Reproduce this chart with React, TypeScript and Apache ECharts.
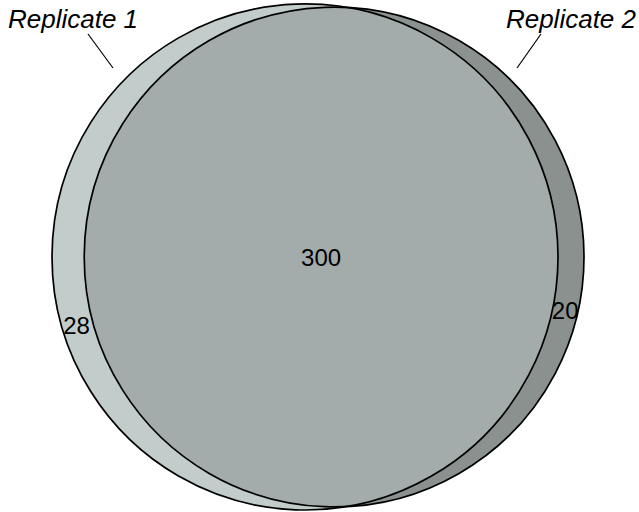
import React, { useEffect, useRef } from "react";
import * as echarts from "echarts";

// ---- data ----
const setNames = ["Replicate 1", "Replicate 2"];
const onlyCounts = [28, 20];
const sharedCount = 300;

const FILL_A = "#c2cccb";
const FILL_B = "#8a918e";
const FILL_AB = "#a3abab";
const FONT = "'Liberation Sans', Arial, Helvetica, sans-serif";

function lensArea(r1: number, r2: number, d: number): number {
  if (d >= r1 + r2) return 0;
  if (d <= Math.abs(r1 - r2)) return Math.PI * Math.min(r1, r2) ** 2;
  const a1 = Math.acos((d * d + r1 * r1 - r2 * r2) / (2 * d * r1));
  const a2 = Math.acos((d * d + r2 * r2 - r1 * r1) / (2 * d * r2));
  const k = Math.sqrt((-d + r1 + r2) * (d + r1 - r2) * (d - r1 + r2) * (d + r1 + r2));
  return r1 * r1 * a1 + r2 * r2 * a2 - 0.5 * k;
}

function solveDistance(r1: number, r2: number, target: number): number {
  let lo = Math.abs(r1 - r2) + 1e-6;
  let hi = r1 + r2;
  for (let i = 0; i < 80; i++) {
    const mid = (lo + hi) / 2;
    if (lensArea(r1, r2, mid) > target) lo = mid;
    else hi = mid;
  }
  return (lo + hi) / 2;
}

function renderVenn(params: any, api: any) {
  const W = api.getWidth();
  const H = api.getHeight();
  const sizeA = onlyCounts[0] + sharedCount;
  const sizeB = onlyCounts[1] + sharedCount;
  const r1 = (H - 6) / 2;
  const unit = (Math.PI * r1 * r1) / sizeA;
  const r2 = Math.sqrt((sizeB * unit) / Math.PI);
  const d = solveDistance(r1, r2, sharedCount * unit);
  const total = r1 + d + r2;
  const left = W / 2 - total / 2 - 1.5;
  const cx1 = left + r1;
  const cx2 = cx1 + d;
  const cy = H / 2 + 1;

  const a = (d * d + r1 * r1 - r2 * r2) / (2 * d);
  const h = Math.sqrt(r1 * r1 - a * a);
  const chordX = cx1 + a;
  const topY = cy - h;
  const botY = cy + h;
  const large2 = chordX > cx2 ? 1 : 0;
  const large1 = chordX < cx1 ? 1 : 0;
  const lens = `M ${chordX} ${topY} A ${r2} ${r2} 0 ${large2} 0 ${chordX} ${botY} A ${r1} ${r1} 0 ${large1} 0 ${chordX} ${topY} Z`;

  const yA = cy + 0.27 * r1;
  const xA = ((cx1 - Math.sqrt(r1 * r1 - (yA - cy) ** 2)) + (cx2 - Math.sqrt(r2 * r2 - (yA - cy) ** 2))) / 2 - 1;
  const yB = cy + 0.215 * r2;
  const xB = ((cx1 + Math.sqrt(r1 * r1 - (yB - cy) ** 2)) + (cx2 + Math.sqrt(r2 * r2 - (yB - cy) ** 2))) / 2;
  const xAB = ((cx2 - r2) + (cx1 + r1)) / 2;

  const numStyle = (text: string) => ({
    text,
    fill: "#000",
    font: `24px ${FONT}`,
    align: "center",
    verticalAlign: "middle",
  });

  return {
    type: "group",
    children: [
      { type: "circle", shape: { cx: cx1, cy, r: r1 }, style: { fill: FILL_A, stroke: "none" } },
      { type: "circle", shape: { cx: cx2, cy, r: r2 }, style: { fill: FILL_B, stroke: "none" } },
      { type: "path", shape: { pathData: lens }, style: { fill: FILL_AB, stroke: "none" } },
      { type: "circle", shape: { cx: cx1, cy, r: r1 }, style: { fill: "none", stroke: "#000", lineWidth: 1.7 } },
      { type: "circle", shape: { cx: cx2, cy, r: r2 }, style: { fill: "none", stroke: "#000", lineWidth: 1.7 } },
      { type: "text", x: xAB, y: cy, style: numStyle(String(sharedCount)) },
      { type: "text", x: xA, y: yA, style: numStyle(String(onlyCounts[0])) },
      { type: "text", x: xB, y: yB, style: numStyle(String(onlyCounts[1])) },
      {
        type: "text", x: 8, y: 19,
        style: { text: setNames[0], fill: "#000", font: `italic 26px ${FONT}`, align: "left", verticalAlign: "middle" },
      },
      {
        type: "text", x: W - 3, y: 19,
        style: { text: setNames[1], fill: "#000", font: `italic 26px ${FONT}`, align: "right", verticalAlign: "middle" },
      },
      { type: "line", shape: { x1: 88, y1: 34, x2: 113, y2: 68 }, style: { stroke: "#000", lineWidth: 1.2 } },
      { type: "line", shape: { x1: W - 98, y1: 34, x2: W - 122, y2: 68 }, style: { stroke: "#000", lineWidth: 1.2 } },
    ],
  };
}

export default function App() {
  const ref = useRef<HTMLDivElement>(null);
  useEffect(() => {
    document.body.style.margin = "0";
    if (!ref.current) return;
    const chart = echarts.init(ref.current, undefined, { renderer: "svg" });
    chart.setOption({
      animation: false,
      backgroundColor: "#ffffff",
      series: [
        {
          type: "custom",
          coordinateSystem: "none",
          data: [[sharedCount, onlyCounts[0], onlyCounts[1]]],
          renderItem: renderVenn,
          silent: true,
        },
      ],
    });
    return () => chart.dispose();
  }, []);
  return <div ref={ref} style={{ width: 639, height: 512 }} />;
}
